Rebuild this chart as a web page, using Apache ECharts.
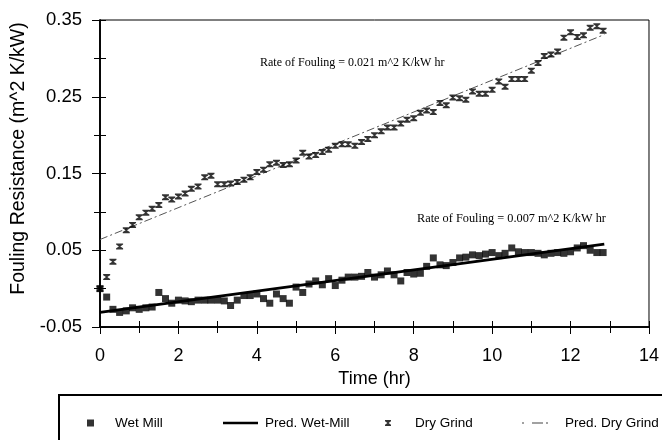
<!DOCTYPE html>
<html>
<head>
<meta charset="utf-8">
<script src="https://cdn.jsdelivr.net/npm/echarts@6/dist/echarts.min.js"></script>
<style>
  html, body { margin: 0; padding: 0; background: #fff; }
  #chart { width: 662px; height: 440px; }
</style>
</head>
<body>
<div id="chart"></div>
<script>
// sample times (hr), one reading every 10 minutes
const time = [0, 0.17, 0.33, 0.5, 0.67, 0.83, 1, 1.17, 1.33, 1.5, 1.67, 1.83, 2, 2.17, 2.33, 2.5, 2.67, 2.83,
  3, 3.17, 3.33, 3.5, 3.67, 3.83, 4, 4.17, 4.33, 4.5, 4.67, 4.83, 5, 5.17, 5.33, 5.5, 5.67, 5.83,
  6, 6.17, 6.33, 6.5, 6.67, 6.83, 7, 7.17, 7.33, 7.5, 7.67, 7.83, 8, 8.17, 8.33, 8.5, 8.67, 8.83,
  9, 9.17, 9.33, 9.5, 9.67, 9.83, 10, 10.17, 10.33, 10.5, 10.67, 10.83, 11, 11.17, 11.33, 11.5, 11.67, 11.83,
  12, 12.17, 12.33, 12.5, 12.67, 12.83];

const wetMill = [0.000, -0.011, -0.027, -0.031, -0.029, -0.025, -0.027, -0.025, -0.024, -0.005,
  -0.013, -0.019, -0.015, -0.016, -0.017, -0.015, -0.015, -0.015, -0.015, -0.016,
  -0.022, -0.015, -0.009, -0.009, -0.007, -0.013, -0.019, -0.007, -0.013, -0.019,
  0.002, -0.005, 0.006, 0.010, 0.005, 0.013, 0.004, 0.011, 0.015, 0.015,
  0.016, 0.021, 0.015, 0.018, 0.023, 0.018, 0.010, 0.021, 0.019, 0.020,
  0.029, 0.040, 0.031, 0.030, 0.034, 0.040, 0.041, 0.044, 0.043, 0.045,
  0.047, 0.043, 0.046, 0.053, 0.048, 0.047, 0.047, 0.046, 0.044, 0.046,
  0.047, 0.046, 0.048, 0.053, 0.056, 0.050, 0.047, 0.047];

const dryGrind = [0.000, 0.015, 0.035, 0.055, 0.076, 0.083, 0.093, 0.099, 0.104, 0.109,
  0.119, 0.116, 0.120, 0.124, 0.130, 0.133, 0.145, 0.147, 0.136, 0.136,
  0.137, 0.139, 0.142, 0.145, 0.152, 0.155, 0.162, 0.164, 0.161, 0.162,
  0.167, 0.177, 0.172, 0.174, 0.178, 0.181, 0.186, 0.188, 0.188, 0.186,
  0.191, 0.195, 0.200, 0.205, 0.210, 0.210, 0.215, 0.220, 0.222, 0.229,
  0.232, 0.230, 0.242, 0.239, 0.249, 0.248, 0.246, 0.257, 0.254, 0.254,
  0.259, 0.270, 0.263, 0.273, 0.273, 0.273, 0.284, 0.294, 0.303, 0.305,
  0.309, 0.327, 0.334, 0.328, 0.330, 0.340, 0.342, 0.336];

// fitted lines, end points
const predTime = [0, 12.86];
const predWet = [-0.031, 0.058];
const predDry = [0.064, 0.331];

const yTicks = { min: -0.05, max: 0.35, interval: 0.1 };

const zip = (xs, ys) => xs.map((x, i) => [x, ys[i]]);
const hourglass = 'path://M0,0H10V2L6,5L10,8V10H0V8L4,5L0,2Z';
const dashIcon = 'path://M0,0H2V1H0Z M10,0H21V1H10Z M24,0H26V1H24Z';
const sans = 'Liberation Sans, Arial, sans-serif';
const serif = 'Liberation Serif, Times New Roman, serif';

const chart = echarts.init(document.getElementById('chart'), null, { renderer: 'canvas' });

function legendAt(left, item, w, h, pad) {
  return {
    left: left, top: 411, itemWidth: w, itemHeight: h,
    data: [item],
    selectedMode: false,
    textStyle: { fontFamily: sans, fontSize: 13.5, color: '#000', padding: [0, 0, 0, pad] }
  };
}

const xBase = {
  type: 'value', min: 0, max: 14, interval: 2,
  splitLine: { show: false },
  axisLine: { onZero: false, lineStyle: { color: '#000', width: 1.5 } },
  minorTick: { show: true, splitNumber: 2, length: 6, lineStyle: { color: '#000' } },
  minorSplitLine: { show: false }
};
const yBase = {
  type: 'value', min: yTicks.min, max: yTicks.max, interval: yTicks.interval,
  splitLine: { show: false },
  axisLine: { onZero: false, lineStyle: { color: '#000', width: 1.5 } },
  minorTick: { show: true, splitNumber: 2, length: 6, lineStyle: { color: '#000' } },
  minorSplitLine: { show: false }
};

chart.setOption({
  animation: false,
  backgroundColor: '#fff',
  grid: { left: 100, right: 9, top: 20, bottom: 113, show: true, borderColor: '#000', borderWidth: 1 },
  xAxis: [
    Object.assign({}, xBase, {
      name: 'Time (hr)', nameLocation: 'middle', nameGap: 41,
      nameTextStyle: { fontFamily: sans, fontSize: 18, color: '#000' },
      axisTick: { length: 7, lineStyle: { color: '#000' } },
      axisLabel: { margin: 20, fontFamily: sans, fontSize: 18, color: '#000' }
    }),
    Object.assign({}, xBase, {
      position: 'bottom',
      axisTick: { inside: true, length: 6, lineStyle: { color: '#000' } },
      axisLabel: { show: false }
    })
  ],
  yAxis: [
    Object.assign({}, yBase, {
      name: 'Fouling Resistance (m^2 K/kW)', nameLocation: 'middle', nameGap: 71,
      nameTextStyle: { fontFamily: sans, fontSize: 19.5, color: '#000', padding: [0, 0, 0, 30] },
      axisTick: { length: 8, lineStyle: { color: '#000' } },
      axisLabel: { margin: 18, fontFamily: sans, fontSize: 18.5, color: '#000',
        formatter: v => v.toFixed(2) }
    }),
    Object.assign({}, yBase, {
      position: 'left',
      axisTick: { inside: true, length: 6, lineStyle: { color: '#000' } },
      axisLabel: { show: false }
    })
  ],
  legend: [
    legendAt(82, { name: 'Wet Mill', icon: 'rect' }, 7, 7, 16),
    legendAt(218, { name: 'Pred. Wet-Mill', icon: 'rect', itemStyle: { color: '#000' } }, 35, 2.5, 2),
    legendAt(380, { name: 'Dry Grind', icon: hourglass }, 6, 6, 19),
    legendAt(517, { name: 'Pred. Dry Grind', icon: dashIcon, itemStyle: { color: '#444' } }, 26, 1.3, 12)
  ],
  graphic: [
    { type: 'rect', shape: { x: 59, y: 395, width: 640, height: 80 },
      style: { fill: 'none', stroke: '#000', lineWidth: 2 }, silent: true },
    { type: 'text', left: 260, top: 57,
      style: { text: 'Rate of Fouling = 0.021 m^2 K/kW hr', font: '12px ' + serif, fill: '#000' } },
    { type: 'text', left: 417, top: 213,
      style: { text: 'Rate of Fouling = 0.007 m^2 K/kW hr', font: '12.3px ' + serif, fill: '#000' } }
  ],
  series: [
    {
      name: 'Wet Mill', type: 'scatter', z: 4,
      symbol: 'rect', symbolSize: 7,
      itemStyle: { color: '#000' },
      data: zip(time, wetMill)
    },
    {
      name: 'Pred. Wet-Mill', type: 'line', z: 3,
      symbol: 'none',
      lineStyle: { color: '#000', width: 2.8 },
      itemStyle: { color: '#000' },
      data: zip(predTime, predWet)
    },
    {
      name: 'Dry Grind', type: 'scatter', z: 4,
      symbol: hourglass, symbolSize: [7, 6],
      itemStyle: { color: '#000' },
      data: zip(time, dryGrind)
    },
    {
      name: 'Pred. Dry Grind', type: 'line', z: 2,
      symbol: 'none',
      lineStyle: { color: '#555', width: 1, type: [8, 3, 2, 3] },
      itemStyle: { color: '#555' },
      data: zip(predTime, predDry)
    }
  ]
});
</script>
</body>
</html>
